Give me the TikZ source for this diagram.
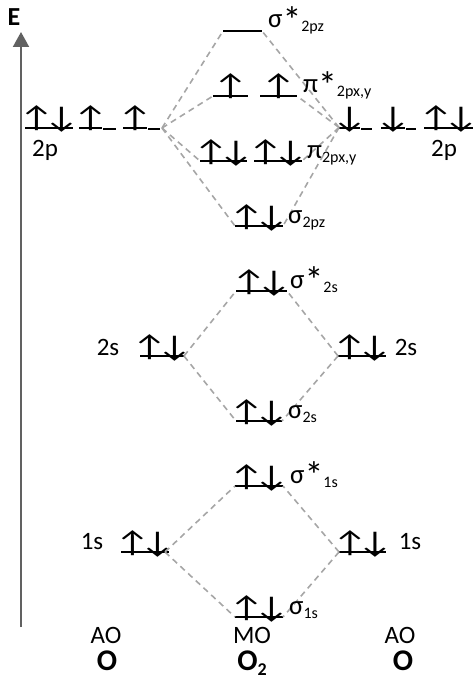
\documentclass[tikz,border=0pt]{standalone}
\usepackage{fontspec}
\setmainfont{Carlito}
\usetikzlibrary{arrows.meta}
\newcommand\mysub[1]{\raisebox{-4pt}{\fontsize{16}{16}\selectfont #1}}
\newcommand\bigstar{\raisebox{-5.5pt}{\scalebox{1.4}{*}}}
\newcommand\eup{\makebox[18pt]{\scalebox{1.3}[1]{↑}}}
\newcommand\edn{\makebox[18pt]{\scalebox{1.3}[1]{↓}}}
\newcommand\ud{\eup\hspace{7pt}\edn}
\newcommand\mklev[5]{\node[lvl=#4] (#1) at (#2,#3) {#5};
  \draw[lvline] (#1.south west) -- (#1.south east);}
\newcommand\mkusc[3]{\draw[uscline] ([xshift=1pt,yshift=-1.5pt]#1.south east) -- ++(#2,0) coordinate (#3);}
\begin{document}
\begin{tikzpicture}[x=1pt,y=-1pt,
  lvl/.style={inner sep=0pt, outer sep=0pt, minimum width=#1, text depth=0pt,
    anchor=south west, font=\fontsize{30}{30}\selectfont},
  lvline/.style={line width=2pt, black},
  uscline/.style={line width=1.6pt, black},
  mo/.style={draw=black!35, line width=1.6pt, dash pattern=on 6pt off 4.5pt},
  lab/.style={anchor=base west, inner sep=0pt, font=\fontsize{27}{27}\selectfont},
  ao/.style={anchor=base, inner sep=0pt, font=\fontsize{25}{25}\selectfont},
  atom/.style={anchor=base, inner sep=0pt, font=\bfseries\fontsize{30}{30}\selectfont},
  axis/.style={draw=black!62, line width=2pt, -{Triangle[width=16pt,length=15pt]}}
]
\useasboundingbox (0,0) rectangle (474,690);
% energy axis
\coordinate (axb) at (21,627);
\coordinate (axt) at (21,32);
\draw[axis] (axb) -- (axt);
\node[atom, font=\bfseries\fontsize{26}{26}\selectfont] (E) at (14,26) {E};
% left 2p
\mklev{lp1}{25}{127.5}{48}{\ud}
\mklev{lp2}{79}{127.5}{23}{\eup}
\mkusc{lp2}{13}{lp2e}
\mklev{lp3}{123}{127.5}{24}{\eup}
\mkusc{lp3}{12}{lp3e}
\coordinate (lpj) at (162,128);
% right 2p
\mklev{rp1}{339}{127.5}{21}{\edn}
\mkusc{rp1}{11}{rp1e}
\mklev{rp2}{381}{127.5}{24}{\edn}
\mkusc{rp2}{10}{rp2e}
\mklev{rp3}{424}{127.5}{49}{\ud}
% MO 2p
\mklev{s2pzs}{223}{31}{39}{}
\mklev{pis1}{213}{96}{35}{\eup\hspace{16pt}}
\mklev{pis2}{260}{96}{37}{\eup\hspace{16pt}}
\mklev{pi1}{200}{161}{47}{\ud}
\mklev{pi2}{254}{161}{48}{\ud}
\mklev{s2pz}{235}{226}{48}{\ud}
% 2s
\mklev{ls2}{140}{356}{44}{\ud}
\mklev{rs2}{338}{356}{48}{\ud}
\mklev{s2ss}{236}{291}{51}{\ud}
\mklev{s2s}{236}{421}{46}{\ud}
% 1s
\mklev{ls1}{121}{552}{48}{\ud}
\mklev{rs1}{339}{552}{47}{\ud}
\mklev{s1ss}{235}{486}{48}{\ud}
\mklev{s1s}{235}{617}{48}{\ud}
% correlation lines
\draw[mo] (lpj) -- (s2pzs.south west);
\draw[mo] (lpj) -- (pis1.south west);
\draw[mo] (lpj) -- (pi1.south west);
\draw[mo] (lpj) -- (s2pz.south west);
\draw[mo] (rp1.south west) -- (s2pzs.south east);
\draw[mo] (rp1.south west) -- (pis2.south east);
\draw[mo] (rp1.south west) -- (pi2.south east);
\draw[mo] (rp1.south west) -- (s2pz.south east);
\draw[mo] (ls2.south east) -- (s2ss.south west);
\draw[mo] (ls2.south east) -- (s2s.south west);
\draw[mo] (rs2.south west) -- (s2ss.south east);
\draw[mo] (rs2.south west) -- (s2s.south east);
\draw[mo] ([xshift=-4pt]ls1.south east) -- (s1ss.south west);
\draw[mo] ([xshift=-4pt]ls1.south east) -- (s1s.south west);
\draw[mo] (rs1.south west) -- (s1ss.south east);
\draw[mo] (rs1.south west) -- (s1s.south east);
% MO labels
\node[lab] (Ls2pzs) at (268,28) {σ\bigstar\mysub{2pz}};
\node[lab] (Lpis) at (303,93) {π\bigstar\mysub{2px,y}};
\node[lab] (Lpi) at (307,158) {π\mysub{2px,y}};
\node[lab] (Ls2pz) at (288,223) {σ\mysub{2pz}};
\node[lab] (Ls2ss) at (290,288) {σ\bigstar\mysub{2s}};
\node[lab] (Ls2s) at (288,418) {σ\mysub{2s}};
\node[lab] (Ls1ss) at (290,483) {σ\bigstar\mysub{1s}};
\node[lab] (Ls1s) at (289,614) {σ\mysub{1s}};
% AO labels
\node[ao] (L2pl) at (45,156) {2p};
\node[ao] (L2pr) at (444,156) {2p};
\node[ao] (L2sl) at (108,355) {2s};
\node[ao] (L2sr) at (406,355) {2s};
\node[ao] (L1sl) at (92,549) {1s};
\node[ao] (L1sr) at (410,549) {1s};
% bottom captions
\node[ao] (AOl) at (106,643) {AO};
\node[ao] (MO) at (252,643) {MO};
\node[ao] (AOr) at (400,643) {AO};
\node[atom] (Ol) at (107,670) {O};
\node[atom] (O2) at (252,670) {O\raisebox{-5pt}{\fontsize{18}{18}\selectfont 2}};
\node[atom] (Or) at (403,670) {O};
\end{tikzpicture}
\end{document}
